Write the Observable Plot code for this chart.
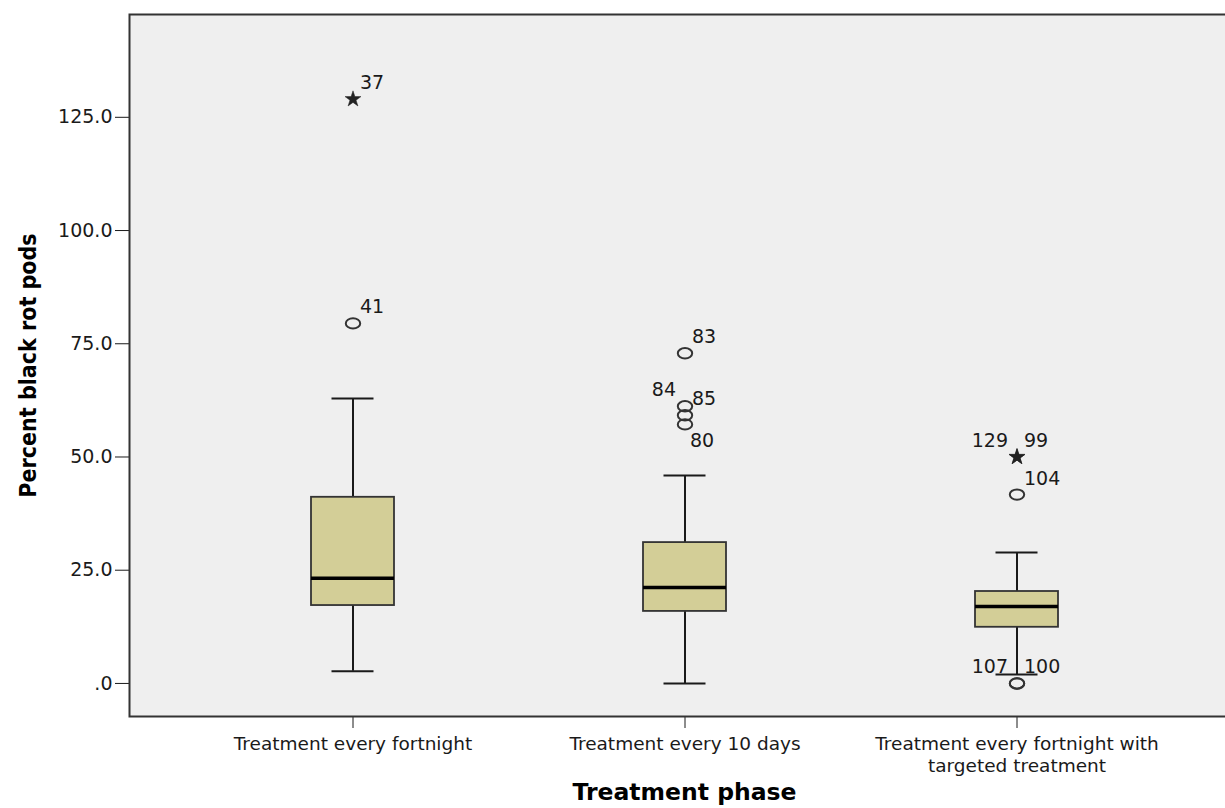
<!DOCTYPE html>
<html>
<head>
<meta charset="utf-8">
<script src="https://cdn.jsdelivr.net/npm/d3@7"></script>
<script src="https://cdn.jsdelivr.net/npm/@observablehq/plot@0.6"></script>
<style>
  html, body { margin: 0; padding: 0; background: #fff; overflow: hidden; }
</style>
</head>
<body>
<div id="chart"></div>
<script>
// ---- data ----
const phases = [
  "Treatment every fortnight",
  "Treatment every 10 days",
  "Treatment every fortnight with targeted treatment"
];
const phaseTickLabels = [
  "Treatment every fortnight",
  "Treatment every 10 days",
  "Treatment every fortnight with\ntargeted treatment"
];
const whiskerLow  = [2.7, 0.0, 2.0];
const q1          = [17.2, 15.9, 12.4];
const median      = [23.2, 21.2, 17.0];
const q3          = [41.1, 31.1, 20.3];
const whiskerHigh = [62.9, 45.9, 28.9];

const outlierIds    = [37, 41, 83, 84, 85, 80, 129, 99, 104, 107, 100];
const outlierPhase  = [0, 0, 1, 1, 1, 1, 2, 2, 2, 2, 2];
const outlierValues = [129.0, 79.5, 72.9, 61.2, 59.2, 57.2, 50.0, 50.0, 41.7, 0.0, 0.0];
const outlierKind   = ["extreme", "outlier", "outlier", "outlier", "outlier", "outlier",
                       "extreme", "extreme", "outlier", "outlier", "outlier"];
const labelSide     = ["right", "right", "right", "left", "right", "below",
                       "left", "right", "right", "left", "right"];

const yTicks = [0, 25, 50, 75, 100, 125];
const yTitle = "Percent black rot pods";
const xTitle = "Treatment phase";

// ---- build tables ----
const boxes = phases.map((p, i) => ({
  phase: p, lo: whiskerLow[i], q1: q1[i], med: median[i], q3: q3[i], hi: whiskerHigh[i]
}));
const outliers = outlierIds.map((id, i) => ({
  id, phase: phases[outlierPhase[i]], value: outlierValues[i],
  kind: outlierKind[i], side: labelSide[i]
}));

// SPSS-style slightly flattened outlier circle
const ellipse = {
  draw(ctx) {
    const rx = 7.2, ry = 5.2, k = 0.5523;
    ctx.moveTo(rx, 0);
    ctx.bezierCurveTo(rx, ry * k, rx * k, ry, 0, ry);
    ctx.bezierCurveTo(-rx * k, ry, -rx, ry * k, -rx, 0);
    ctx.bezierCurveTo(-rx, -ry * k, -rx * k, -ry, 0, -ry);
    ctx.bezierCurveTo(rx * k, -ry, rx, -ry * k, rx, 0);
    ctx.closePath();
  }
};

const labelStyle = {x: "phase", y: "value", text: d => String(d.id), lineAnchor: "bottom",
  fontSize: 19, fill: "#1a1a1a"};

const chart = Plot.plot({
  width: 1225,
  height: 808,
  marginLeft: 129,
  marginRight: -14,
  marginTop: 14,
  marginBottom: 92,
  style: {background: "#fff", fontFamily: "'DejaVu Sans', sans-serif", color: "#1a1a1a", overflow: "hidden"},
  x: {type: "band", domain: phases, paddingInner: 0.7504, paddingOuter: 0.545, label: null},
  y: {domain: [-7.3, 147.7], label: null},
  marks: [
    Plot.frame({fill: "#efefef", stroke: null}),
    Plot.ruleX(boxes, {x: "phase", y1: "lo", y2: "q1", stroke: "#1a1a1a", strokeWidth: 2}),
    Plot.ruleX(boxes, {x: "phase", y1: "q3", y2: "hi", stroke: "#1a1a1a", strokeWidth: 2}),
    Plot.tickY(boxes, {x: "phase", y: "lo", insetLeft: 20.5, insetRight: 20.5, stroke: "#1a1a1a", strokeWidth: 2}),
    Plot.tickY(boxes, {x: "phase", y: "hi", insetLeft: 20.5, insetRight: 20.5, stroke: "#1a1a1a", strokeWidth: 2}),
    Plot.barY(boxes, {x: "phase", y1: "q1", y2: "q3", fill: "#d3ce97", stroke: "#333", strokeWidth: 1.8}),
    Plot.tickY(boxes, {x: "phase", y: "med", stroke: "#000", strokeWidth: 3.5}),
    Plot.dot(outliers.filter(d => d.kind === "outlier"),
      {x: "phase", y: "value", symbol: ellipse, fill: "none", stroke: "#333", strokeWidth: 2}),
    Plot.dot(outliers.filter(d => d.kind === "extreme"),
      {x: "phase", y: "value", symbol: "star", r: 5, fill: "#222", stroke: "#222", strokeWidth: 0.5}),
    Plot.text(outliers.filter(d => d.side === "right"), {...labelStyle, textAnchor: "start", dx: 7, dy: -10}),
    Plot.text(outliers.filter(d => d.side === "left"), {...labelStyle, textAnchor: "end", dx: -9, dy: -10}),
    Plot.text(outliers.filter(d => d.side === "below"), {...labelStyle, textAnchor: "start", dx: 5, dy: 23}),
    Plot.axisY({ticks: yTicks, tickFormat: d => d === 0 ? ".0" : d.toFixed(1),
      tickSize: 14, tickPadding: 3, fontSize: 19, label: null}),
    Plot.axisX({tickFormat: d => phaseTickLabels[phases.indexOf(d)],
      tickSize: 12, tickPadding: 6, fontSize: 18.5, lineHeight: 1.18, label: null}),
    Plot.frame({stroke: "#333", strokeWidth: 2}),
    Plot.text([yTitle], {frameAnchor: "left", rotate: -90, dx: -94, lineAnchor: "bottom",
      textAnchor: "middle", fontWeight: "bold", fontSize: 23,
      fontFamily: "'DejaVu Sans Condensed', 'Liberation Sans', sans-serif", fill: "#000"}),
    Plot.text([xTitle], {frameAnchor: "bottom", dy: 83, lineAnchor: "bottom",
      textAnchor: "middle", fontWeight: "bold", fontSize: 23.5, fill: "#000"})
  ]
});
document.getElementById("chart").append(chart);
</script>
</body>
</html>
